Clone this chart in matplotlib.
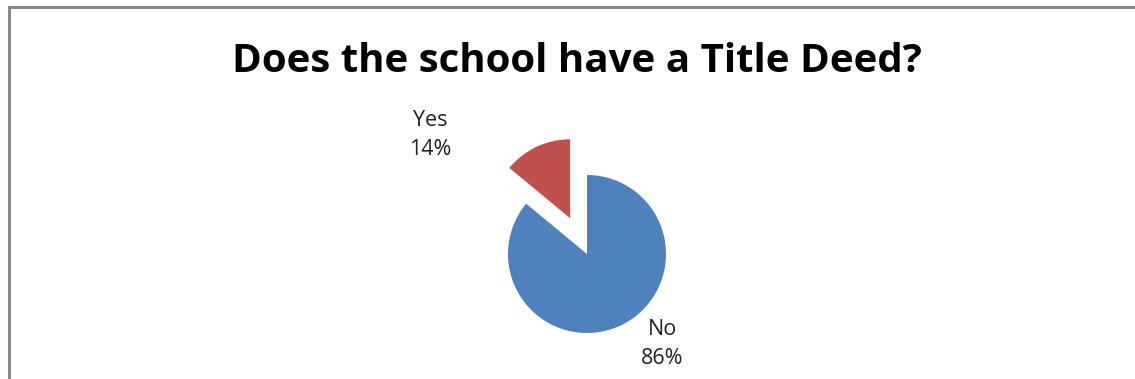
import matplotlib.pyplot as plt

labels = ["Yes", "No"]
shares = [14, 86]
colors = ["#C0504D", "#4F81BD"]

W, H = 1135, 379
fig = plt.figure(figsize=(W / 100, H / 100), dpi=100)
ax = fig.add_axes([0, 0, 1, 1])
ax.set_xlim(0, W)
ax.set_ylim(0, H)
ax.axis("off")

# chart frame: only top and left edges are visible
ax.plot([9, 9, W], [0, H - 7, H - 7], color="#888888", lw=2.2,
        solid_joinstyle="miter", solid_capstyle="butt")

center = (587, H - 254)
radius = 79
# explode is in data units here, so pull "Yes" out by half the radius
wedges, _ = ax.pie(shares, colors=colors, startangle=90, counterclock=True,
                   explode=[0.5 * radius, 0], center=center, radius=radius,
                   wedgeprops=dict(linewidth=0))
ax.set_xlim(0, W)
ax.set_ylim(0, H)
ax.set_aspect("equal")

ax.text(577, H - 62, "Does the school have a Title Deed?", ha="center", va="center",
        fontsize=29, fontweight="bold", family="Open Sans")

label_pos = [(430, H - 135), (662, H - 344)]
for (x, y), lab, v in zip(label_pos, labels, shares):
    ax.text(x, y, f"{lab}\n{v}%", ha="center", va="center", fontsize=15.5,
            family="Open Sans", color="#222222", linespacing=1.45)

fig.savefig("out.png", dpi=100)
